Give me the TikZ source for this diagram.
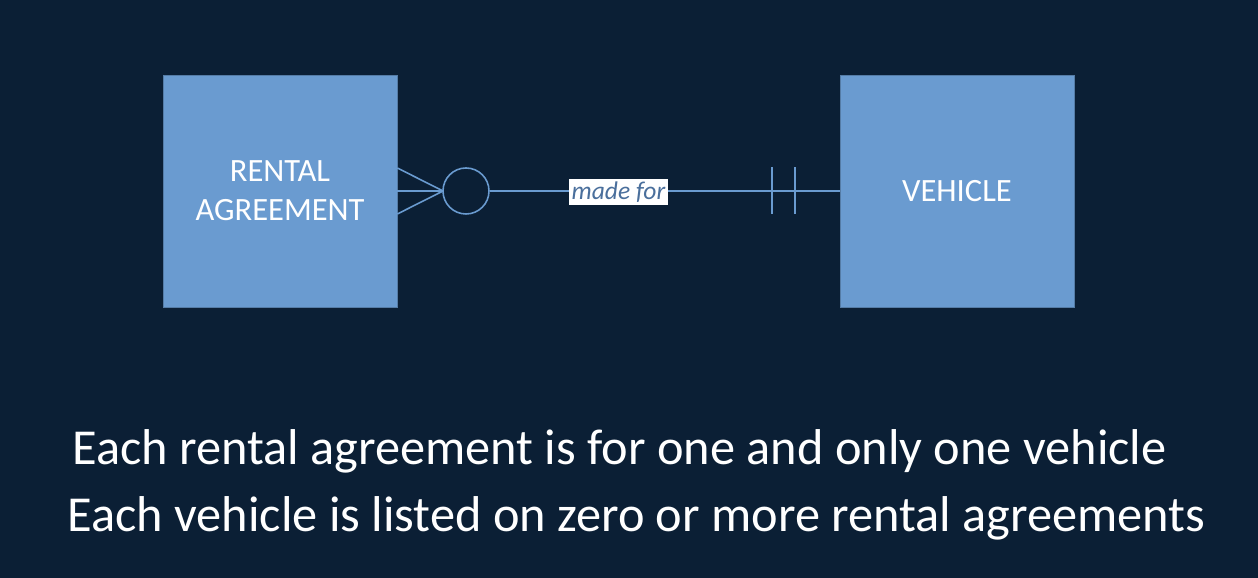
\documentclass[tikz,border=0pt]{standalone}
\usepackage{fontspec}
\setmainfont{Carlito}
\usepackage{tikz}

\definecolor{bgnavy}{HTML}{0B1F35}
\definecolor{entblue}{HTML}{6A9BD0}
\definecolor{lblblue}{HTML}{4A6F9C}

\tikzset{
  entity/.style={rectangle, fill=entblue, draw=entblue!80!black, line width=0.4pt,
    minimum width=4.68cm, minimum height=4.64cm, text=white, align=center,
    font=\fontsize{18.5}{22}\selectfont},
  erline/.style={draw=entblue, line width=0.9pt},
  sentence/.style={text=white, anchor=base, inner sep=0pt, font=\fontsize{28.65}{34}\selectfont}
}

\begin{document}
\begin{tikzpicture}
			% Background
			\fill[bgnavy] (0, 0) rectangle (25.16, 11.56);
			\useasboundingbox (0, 0) rectangle (25.16, 11.56);
			
			% Entities
			\node[entity] (rental) at (5.6, 7.74) {RENTAL\\AGREEMENT};
			\node[entity] (vehicle) at (19.14, 7.74) {VEHICLE};
			
			% Zero or more (rental side)
			\coordinate (tip) at (8.86, 7.74);
			\node[circle, erline, minimum size=0.92cm, inner sep=0pt] (zero) at (9.32, 7.74) {};
			\draw[erline] ([yshift=0.46cm]rental.east) -- (tip);
			\draw[erline] (rental.east) -- (tip);
			\draw[erline] ([yshift=-0.46cm]rental.east) -- (tip);
			
			% Relationship line
			\draw[erline] (zero.east) -- (vehicle.west);
			\node[fill=white, text=lblblue, inner sep=1.5pt, font=\fontsize{14.5}{16}\selectfont\itshape] (label) at (12.37, 7.72) {made for};
			
			% One and only one (vehicle side)
			\coordinate (bar1) at (15.44, 7.74);
			\coordinate (bar2) at (15.9, 7.74);
			\draw[erline] ([yshift=0.47cm]bar1) -- ([yshift=-0.47cm]bar1);
			\draw[erline] ([yshift=0.47cm]bar2) -- ([yshift=-0.47cm]bar2);
			
			% Sentences
			\node[sentence] (line1) at (12.39, 2.26) {Each rental agreement is for one and only one vehicle};
			\node[sentence] (line2) at (12.73, 0.92) {Each vehicle is listed on zero or more rental agreements};
		\end{tikzpicture}
\end{document}
